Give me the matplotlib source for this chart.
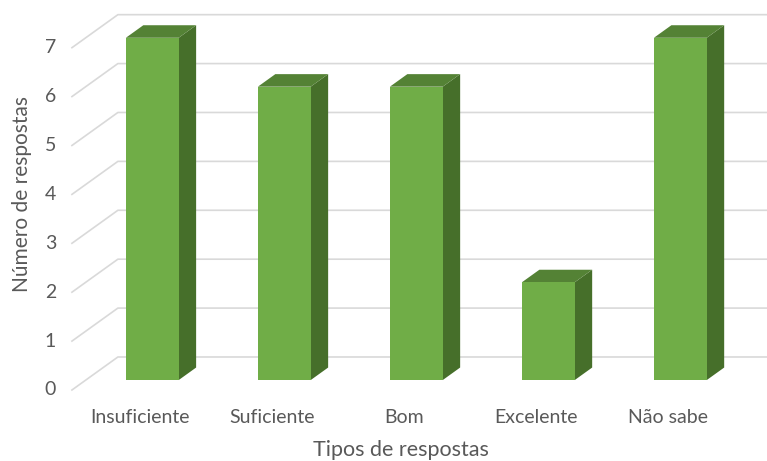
import matplotlib.pyplot as plt
from matplotlib.patches import Polygon
from matplotlib import rcParams

# chart data
categories = ["Insuficiente", "Suficiente", "Bom", "Excelente", "Não sabe"]
values = [7, 6, 6, 2, 7]
y_ticks = [0, 1, 2, 3, 4, 5, 6, 7]

rcParams['font.family'] = ['Lato', 'DejaVu Sans']

# Excel style 3D look: back wall is shifted from the front plane by (DX, DY)
DX = 0.348      # in category units
DY = 0.675      # in value units
F_FRONT = 0.30  # depth of bar front face
F_BACK = 0.68   # depth of bar back face
HALF_W = 0.20   # half bar width
GRID_X0 = -0.504

text_col = '#595959'
grid_col = '#D9D9D9'
face_col = '#70AD47'
top_col = '#548235'
side_col = '#466F2A'


def proj(x, v, f):
    return (x + f * DX, v + f * DY)


fig = plt.figure(figsize=(7.67, 4.61), dpi=100, facecolor='white')
ax = fig.add_axes([0, 0, 1, 1])
ax.set_xlim(-1.049, 4.761)
ax.set_ylim(-1.452, 7.975)
ax.axis('off')

# gridlines: diagonal on the floor side, then along the back wall
for t in y_ticks:
    x0, y0 = proj(GRID_X0, t, 0)
    x1, y1 = proj(GRID_X0, t, 1)
    ax.plot([x0, x1, 6], [y0, y1, y1], color=grid_col, lw=1.2, zorder=1)
    ax.text(GRID_X0 - 0.12, t, str(t), ha='right', va='center',
            fontsize=14, color=text_col)

# bars
for i, v in enumerate(values):
    xl, xr = i - HALF_W, i + HALF_W
    front = [proj(xl, 0, F_FRONT), proj(xr, 0, F_FRONT),
             proj(xr, v, F_FRONT), proj(xl, v, F_FRONT)]
    side = [proj(xr, 0, F_FRONT), proj(xr, 0, F_BACK),
            proj(xr, v, F_BACK), proj(xr, v, F_FRONT)]
    top = [proj(xl, v, F_FRONT), proj(xr, v, F_FRONT),
           proj(xr, v, F_BACK), proj(xl, v, F_BACK)]
    ax.add_patch(Polygon(side, closed=True, fc=side_col, ec='none', zorder=3))
    ax.add_patch(Polygon(top, closed=True, fc=top_col, ec='none', zorder=3))
    ax.add_patch(Polygon(front, closed=True, fc=face_col, ec='none', zorder=4))
    ax.text(i + 0.01, -0.56, categories[i], ha='center', va='center',
            fontsize=14, color=text_col)

ax.text(-1.049 + 22 / 132, 4.0, "Número de respostas", rotation=90,
        ha='center', va='center', fontsize=15, color=text_col)
# x title sits right at the bottom edge, as in the original
ax.text(1.985, -1.432, "Tipos de respostas", ha='center', va='bottom',
        fontsize=15.5, color=text_col)

plt.savefig("out.png", dpi=100, facecolor='white')
